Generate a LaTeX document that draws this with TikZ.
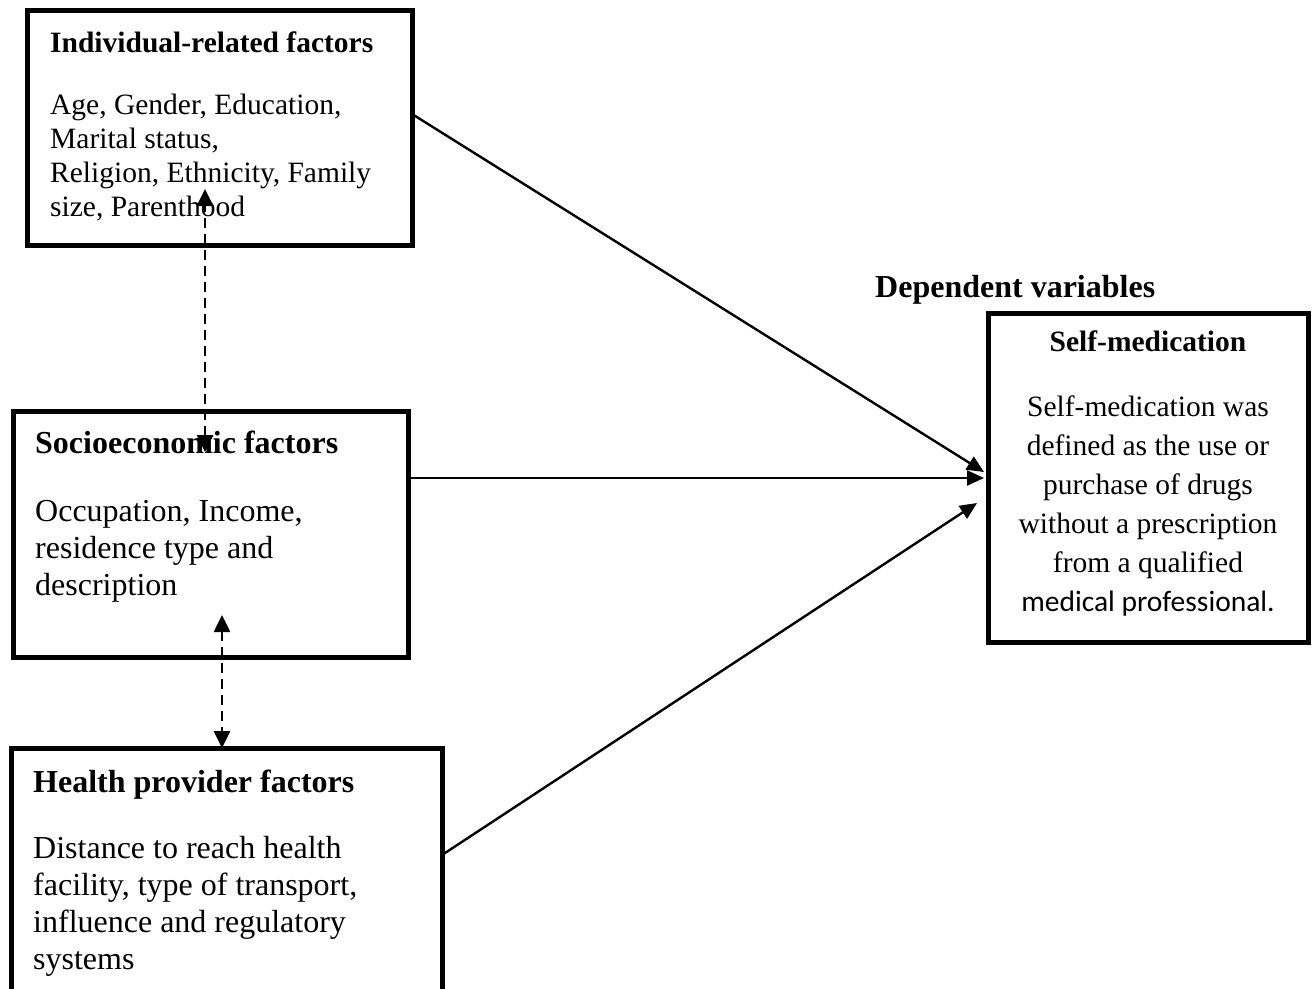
\documentclass[tikz,border=0pt]{standalone}
\usepackage{fontspec}
\setmainfont{Liberation Serif}
\newfontfamily\calib{Carlito}
\usetikzlibrary{arrows.meta}
\begin{document}
\begin{tikzpicture}[x=1pt,y=-1pt,
  box/.style={draw,line width=5pt,rectangle,inner sep=0pt,outer sep=0pt},
  ttl/.style={anchor=base west,inner sep=0pt,font=\fontsize{#1}{#1}\selectfont\bfseries},
  bodytxt/.style 2 args={anchor=base west,inner sep=0pt,align=left,font=\fontsize{#1}{#2}\selectfont},
  conn/.style={line width=2.4pt,-{Triangle[length=17pt,width=15pt]}},
  dasharr/.style={line width=2.6pt,dash pattern=on 10pt off 6pt,{Triangle[length=17pt,width=16pt]}-{Triangle[length=17pt,width=16pt]}}
]
\useasboundingbox (0,0) rectangle (1314,988);
\fill[white] (0,0) rectangle (1314,988);
% boxes
\node[box,minimum width=385pt,minimum height=235pt] (ind) at (219.5,127.5) {};
\node[box,minimum width=395pt,minimum height=246pt] (soc) at (210.5,534) {};
\node[box,minimum width=431pt,minimum height=262pt] (hea) at (226.5,879) {};
\node[box,minimum width=320pt,minimum height=329pt] (med) at (1148,477.5) {};
% texts (multi-line nodes: base = baseline of last line)
\node[ttl=29.5] (indt) at (50,52) {Individual-related factors};
\node[bodytxt={29.5}{34}] (indb) at (50,216) {Age, Gender, Education,\\Marital status,\\Religion, Ethnicity, Family\\size, Parenthood};
\node[ttl=32] (soct) at (35,453) {Socioeconomic factors};
\node[bodytxt={32}{37}] (socb) at (35,595) {Occupation, Income,\\residence type and\\description};
\node[ttl=32] (heat) at (33,792) {Health provider factors};
\node[bodytxt={32}{37}] (heab) at (33,969) {Distance to reach health\\facility, type of transport,\\influence and regulatory\\systems};
\node[ttl=32] (dep) at (875,297) {Dependent variables};
\node[ttl=29.5,anchor=base] (medt) at (1148,351) {Self-medication};
\node[anchor=base,inner sep=0pt,align=center,font=\fontsize{29.5}{39}\selectfont] (medb) at (1148,611) {Self-medication was\\defined as the use or\\purchase of drugs\\without a prescription\\from a qualified\\{\calib medical professional.}};
% connector end points
\coordinate (s1) at (ind.east |- 0,114);
\coordinate (e1) at (984,472);
\coordinate (s2) at (soc.east |- 0,478);
\coordinate (e2) at (984,478);
\coordinate (s3) at (hea.east |- 0,855);
\coordinate (e3) at (977,503);
\coordinate (d1a) at (205,189);
\coordinate (d1b) at (205,452);
\coordinate (d2a) at (222,615);
\coordinate (d2b) at (222,748);
\draw[conn] (s1) -- (e1);
\draw[conn] (s2) -- (e2);
\draw[conn] (s3) -- (e3);
\draw[dasharr] (d1b) -- (d1a);
\draw[dasharr] (d2a) -- (d2b);
\end{tikzpicture}
\end{document}
